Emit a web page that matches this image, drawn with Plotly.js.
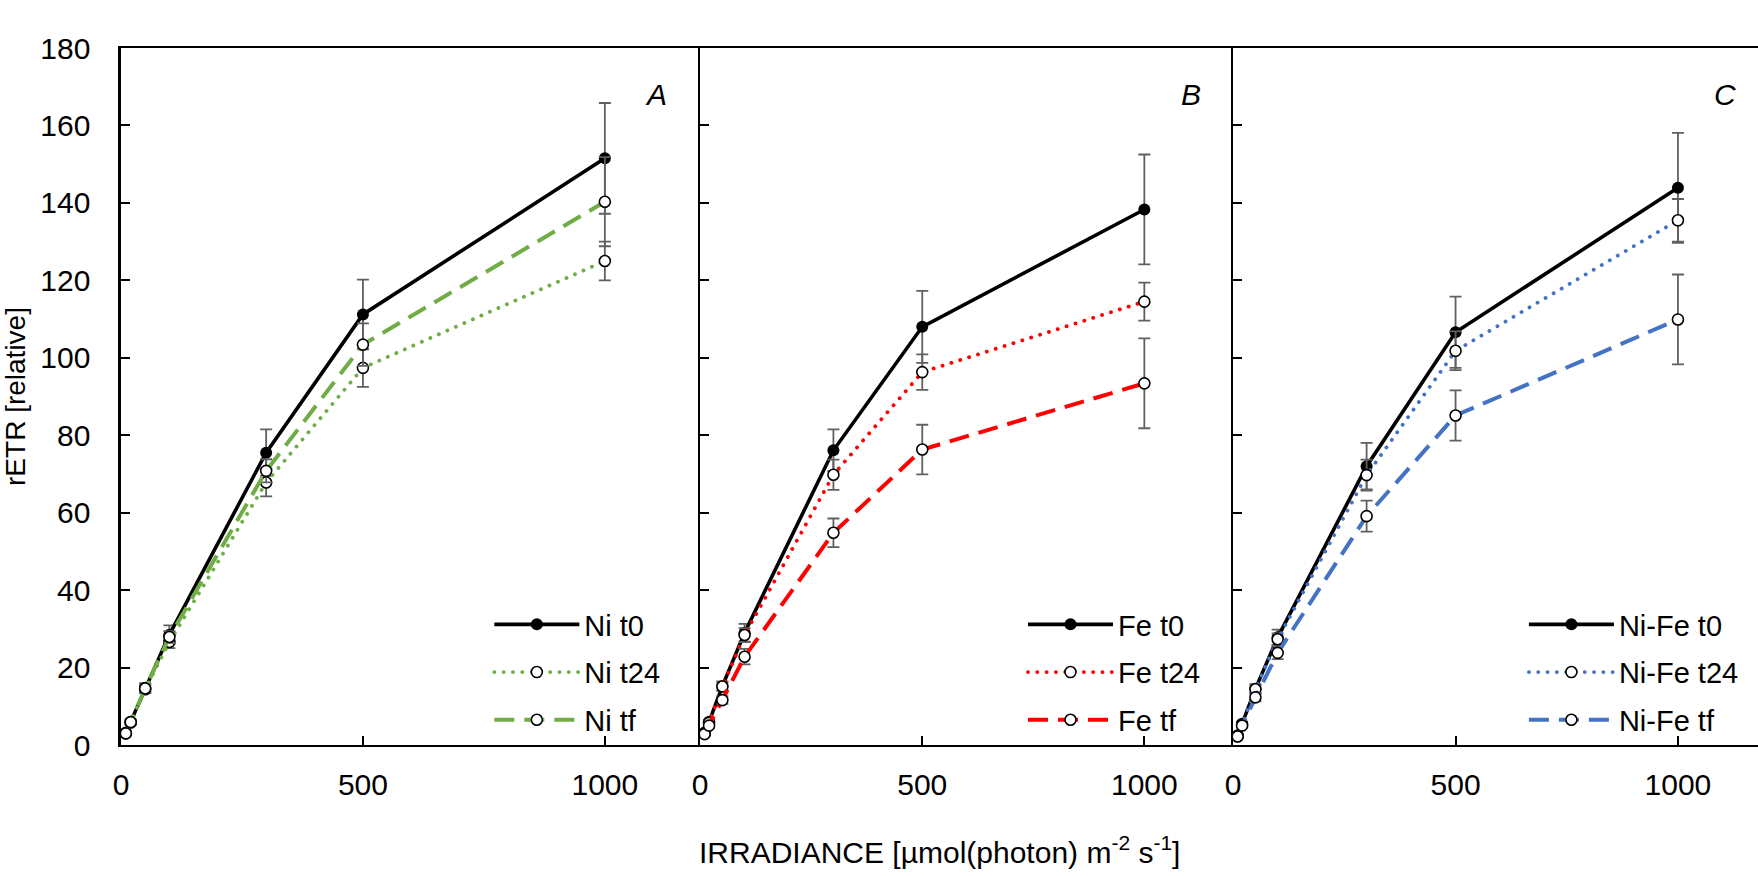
<!DOCTYPE html>
<html>
<head>
<meta charset="utf-8">
<script src="https://cdn.plot.ly/plotly-3.0.1.min.js"></script>
<style>
  html, body { margin: 0; padding: 0; background: #ffffff; }
  #chart { width: 1758px; height: 876px; }
</style>
</head>
<body>
<div id="chart"></div>
<script>
// ---------- data ----------
const irradiance = [10, 20, 50, 100, 300, 500, 1000];
const yTickVals = [0, 20, 40, 60, 80, 100, 120, 140, 160, 180];
const xTickVals = [0, 500, 1000];
const xTickText = ['0', '500', '1000'];

const panelLabels = ['A', 'B', 'C'];

// Panel A: Ni
const niNames = ['Ni t0', 'Ni t24', 'Ni tf'];
const niT0 = [3.2, 6.0, 14.8, 28.5, 75.5, 111.2, 151.5];
const niT0Err = [0.3, 0.6, 1.2, 2.4, 6.0, 9.0, 14.3];
const niT24 = [3.0, 5.8, 14.4, 26.6, 67.8, 97.4, 125.0];
const niT24Err = [0.3, 0.5, 1.0, 1.6, 3.6, 4.9, 5.0];
const niTf = [3.0, 5.9, 14.6, 27.9, 70.8, 103.4, 140.3];
const niTfErr = [0.3, 0.5, 1.0, 1.5, 3.0, 5.5, 11.5];

// Panel B: Fe
const feNames = ['Fe t0', 'Fe t24', 'Fe tf'];
const feT0 = [3.2, 6.0, 15.2, 29.0, 76.1, 108.0, 138.3];
const feT0Err = [0.3, 0.5, 1.2, 2.3, 5.4, 9.3, 14.2];
const feT24 = [3.0, 5.7, 15.1, 28.4, 69.8, 96.3, 114.5];
const feT24Err = [0.3, 0.5, 1.0, 1.8, 3.9, 4.6, 4.9];
const feTf = [2.8, 5.0, 11.6, 22.8, 54.8, 76.3, 93.4];
const feTfErr = [0.3, 0.5, 1.0, 2.0, 3.7, 6.4, 11.6];

// Panel C: Ni-Fe
const nfNames = ['Ni-Fe t0', 'Ni-Fe t24', 'Ni-Fe tf'];
const nfT0 = [2.5, 5.5, 14.5, 27.8, 72.0, 106.6, 143.9];
const nfT0Err = [0.3, 0.5, 1.2, 2.0, 6.0, 9.2, 14.2];
const nfT24 = [2.3, 5.3, 14.4, 27.3, 69.7, 101.8, 135.5];
const nfT24Err = [0.3, 0.5, 1.0, 1.5, 4.0, 5.0, 5.5];
const nfTf = [2.2, 5.0, 12.3, 23.8, 59.1, 85.1, 109.9];
const nfTfErr = [0.3, 0.5, 1.0, 1.6, 4.0, 6.5, 11.6];

const panelColors = ['#70AD47', '#FF0000', '#4472C4'];

// ---------- styling ----------
const FONT = '"Liberation Sans", Arial, Helvetica, sans-serif';
const DOT_DASH = '3.5px,5.5px';
const errStyle = (arr) => ({ type: 'data', array: arr, visible: true, color: '#606060', thickness: 1.8, width: 6 });

function panelTraces(idx, names, t0, t0e, t24, t24e, tf, tfe) {
  const xa = idx === 0 ? 'x' : 'x' + (idx + 1);
  const ya = idx === 0 ? 'y' : 'y' + (idx + 1);
  const lg = idx === 0 ? 'legend' : 'legend' + (idx + 1);
  const col = panelColors[idx];
  const openMarker = { symbol: 'circle', size: 11, color: '#ffffff', line: { color: '#000000', width: 1.6 } };
  return [
    {
      x: irradiance, y: t0, error_y: errStyle(t0e), name: names[0], xaxis: xa, yaxis: ya, legend: lg,
      legendgroup: lg + 'a', mode: 'lines+markers', type: 'scatter',
      line: { color: '#000000', width: 3.6 },
      marker: { symbol: 'circle', size: 12, color: '#000000' }
    },
    {
      x: irradiance, y: t24, error_y: errStyle(t24e), name: names[1], xaxis: xa, yaxis: ya, legend: lg,
      legendgroup: lg + 'b', mode: 'lines+markers', type: 'scatter',
      line: { color: col, width: 3.8, dash: DOT_DASH },
      marker: openMarker
    },
    {
      x: irradiance, y: tf, error_y: errStyle(tfe), name: names[2], xaxis: xa, yaxis: ya, legend: lg,
      legendgroup: lg + 'c', mode: 'lines+markers', type: 'scatter',
      line: { color: col, width: 4, dash: '20px,10px' },
      marker: openMarker
    }
  ];
}

const data = [].concat(
  panelTraces(0, niNames, niT0, niT0Err, niT24, niT24Err, niTf, niTfErr),
  panelTraces(1, feNames, feT0, feT0Err, feT24, feT24Err, feTf, feTfErr),
  panelTraces(2, nfNames, nfT0, nfT0Err, nfT24, nfT24Err, nfTf, nfTfErr)
);

const tickFont = { family: FONT, size: 30, color: '#000000' };

function xAxis(domain, range, anchor) {
  return {
    domain: domain, range: range, anchor: anchor,
    tickmode: 'array', tickvals: xTickVals, ticktext: xTickText,
    ticks: 'inside', ticklen: 9, tickwidth: 2, tickcolor: '#000000',
    showline: true, linecolor: '#000000', linewidth: 2, mirror: true,
    showgrid: false, zeroline: false, tickfont: tickFont, ticklabelstandoff: 12,
    fixedrange: true
  };
}
function yAxis(anchor, showLabels) {
  return {
    domain: [0, 1], range: [0, 180], anchor: anchor,
    tickmode: 'array', tickvals: yTickVals,
    ticks: 'inside', ticklen: 9, tickwidth: 2, tickcolor: '#000000',
    showline: true, linecolor: '#000000', linewidth: 2.6,
    showgrid: false, zeroline: false, tickfont: tickFont,
    showticklabels: showLabels, ticklabelstandoff: 22, fixedrange: true
  };
}

function legendBox(x) {
  return {
    x: x, y: 0.104, xanchor: 'left', yanchor: 'middle',
    bgcolor: 'rgba(0,0,0,0)', borderwidth: 0,
    font: { family: FONT, size: 29, color: '#000000' },
    itemwidth: 85, tracegroupgap: 7, traceorder: 'grouped', itemclick: false
  };
}

const xA = xAxis([0, 0.3538], [0, 1197], 'y');
const xB = xAxis([0.3538, 0.6794], [0, 1200], 'y2');
const xC = xAxis([0.6794, 1], [0, 1180], 'y3');
const yA = yAxis('x', true);
yA.title = { text: 'rETR [relative]', font: { family: FONT, size: 28, color: '#000000' }, standoff: 10 };
const yB = yAxis('x2', false);
const yC = yAxis('x3', false);

const panelAnn = panelLabels.map((t, i) => ({
  xref: i === 0 ? 'x' : 'x' + (i + 1), yref: i === 0 ? 'y' : 'y' + (i + 1),
  x: 1105, y: 168, text: '<i>' + t + '</i>', showarrow: false,
  font: { family: FONT, size: 30, color: '#000000' }, xanchor: 'center', yanchor: 'middle'
}));

const layout = {
  width: 1758, height: 876,
  margin: { l: 121, r: 0, t: 48, b: 131 },
  paper_bgcolor: '#ffffff', plot_bgcolor: 'rgba(0,0,0,0)',
  font: { family: FONT, color: '#000000' },
  showlegend: true,
  xaxis: xA, xaxis2: xB, xaxis3: xC,
  yaxis: yA, yaxis2: yB, yaxis3: yC,
  legend: legendBox(0.225), legend2: legendBox(0.551), legend3: legendBox(0.857),
  annotations: panelAnn.concat([{
    xref: 'paper', yref: 'paper', x: 0.5, y: -0.15, xanchor: 'center', yanchor: 'middle',
    text: 'IRRADIANCE [µmol(photon) m<sup>-2</sup> s<sup>-1</sup>]', showarrow: false,
    font: { family: FONT, size: 30, color: '#000000' }
  }])
};

// Round dots for the dotted series (style only)
function roundDots() {
  document.querySelectorAll('#chart path.js-line').forEach(function (p) {
    const d = p.style.strokeDasharray || '';
    if (d.indexOf('3.5') === 0) {
      p.style.strokeDasharray = '0.1px, 9.2px';
      p.style.strokeLinecap = 'round';
    }
  });
}

Plotly.newPlot('chart', data, layout, { staticPlot: true, displayModeBar: false }).then(roundDots);
</script>
</body>
</html>
